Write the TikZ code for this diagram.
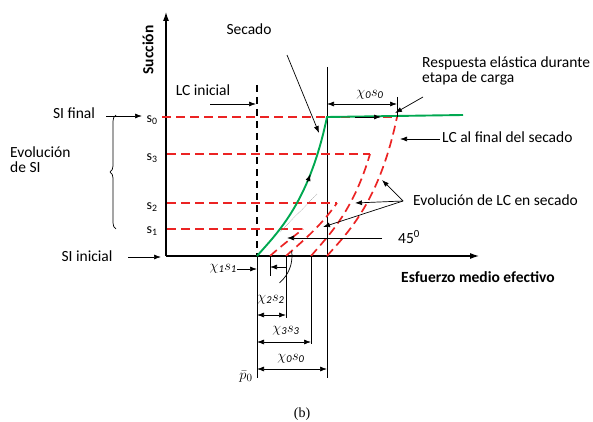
\documentclass[tikz,border=0pt]{standalone}
\usepackage{fontspec}
\setmainfont{Carlito}
\newfontfamily\serifb{Liberation Serif}
\usetikzlibrary{arrows.meta,decorations.pathreplacing}
\begin{document}
\begin{tikzpicture}[x=1pt,y=-1pt,
  lbl/.style={font=\fontsize{15.5}{15}\selectfont, inner sep=0pt},
  blbl/.style={font=\fontsize{15.5}{15}\selectfont\bfseries, inner sep=0pt},
  mlbl/.style={font=\fontsize{15}{15}\selectfont, inner sep=0pt},
  slbl/.style={font=\fontsize{14}{14}\selectfont, inner sep=0pt},
  thin/.style={line width=0.7pt},
  arr/.style={line width=0.7pt,-{Latex[length=7pt,width=5pt]}},
  dim/.style={line width=0.7pt,{Latex[length=7pt,width=5pt]}-{Latex[length=7pt,width=5pt]}},
  axis/.style={line width=1.1pt,-{Latex[length=9pt,width=6pt]}},
  rdash/.style={draw={rgb,255:red,235;green,35;blue,35}, line width=1.7pt, dash pattern=on 9pt off 5pt},
  bdash/.style={line width=1.4pt, dash pattern=on 7pt off 5pt},
  grn/.style={draw={rgb,255:red,0;green,168;blue,80}, line width=1.9pt}
]
\useasboundingbox (0,0) rectangle (593,422);

% coordinates
\coordinate (O) at (166,256);
\coordinate (p0) at (257,256);
\coordinate (p0b) at (257,378);
\coordinate (A) at (327,117);
\coordinate (Atop) at (327,67);
\coordinate (Abot) at (327,378);

% axes
\draw[axis] (O) -- (166,12) coordinate (ytip);
\draw[axis] (O) -- (479,256) coordinate (xtip);
\draw[line width=1.6pt] (p0) -- (403,256);

% vertical lines
\draw[bdash] (257,85) -- (p0);
\draw[thin] (Atop) -- (Abot);
\draw[thin] (p0) -- (p0b);

% red horizontal dashed
\draw[rdash] (162,117) -- (A);
\draw[rdash] (327,117) -- (397,117);
\draw[rdash] (167,154) -- (370,154);
\draw[rdash] (167,203) -- (337,203);
\draw[rdash] (167,229) -- (303,229);

% LC curves
\draw[rdash] (270,256) .. controls (279.5,247.3) and (291,238.7) .. (303,229);
\draw[rdash] (286,256) .. controls (300.2,242.9) and (319,228.5) .. (337,203);
\draw[rdash] (311,256) .. controls (328,236) and (353,212) .. (370,154);
\draw[rdash] (327,256) .. controls (347,233) and (379,203.4) .. (397,117);

% 45 deg line
\draw[gray, line width=0.5pt, densely dotted] (280,232) -- (317,194);

% green path
\draw[grn] (p0) .. controls (277,233) and (309,203.4) .. (A) -- (463,115);
\draw[arr] (307.5,182) -- (310.5,174);
\draw[arr] (355,117) -- (381,117);

% arc 45
\draw[thin] (p0) ++(50:35) arc[start angle=50, end angle=-8, radius=35];

% labels left
\node[blbl, rotate=90] (succ) at (148,50) {Succión};
\node[lbl] (secado) at (249,29) {Secado};
\node[lbl] (lcini) at (203,90) {LC inicial};
\draw[arr] (210,104) -- (256,104);
\node[lbl] (sifin) at (74,113) {SI final};
\draw[arr] (106,116) -- (142,116);
\node[lbl, align=left, anchor=west] (evsi) at (10,160) {Evolución\\de SI};
\node[lbl] (siini) at (87,256) {SI inicial};
\draw[arr] (128,257) -- (161,257);
\draw[thin, decorate, decoration={brace, amplitude=6pt}] (116,229) -- (116,115);

\node[slbl] (s0) at (152,120) {s\textsubscript{0}};
\node[slbl] (s3) at (152,158) {s\textsubscript{3}};
\node[slbl] (s2) at (152,207) {s\textsubscript{2}};
\node[slbl] (s1) at (152,231) {s\textsubscript{1}};

% Secado arrow
\draw[arr] (287,55) -- (319,133);

% top dimension
\draw[thin] (397,97) -- (397,117);
\draw[dim] (327,104) -- (397,104);
\node[mlbl] (c0top) at (370,95) {$\chi_{\mathit 0}s_{\mathit 0}$};

% Respuesta elastica
\node[lbl, align=left, anchor=west] (resp) at (422,71) {Respuesta elástica durante\\etapa de carga};
\draw[arr] (423,97) -- (395,113);

% LC al final
\node[lbl, anchor=west] (lcfin) at (442,137) {LC al final del secado};
\draw[arr] (440,139) -- (400,139);

% Evolucion de LC
\node[lbl, anchor=west] (evlc) at (413,200) {Evolución de LC en secado};
\coordinate (ev) at (403,201);
\draw[arr] (ev) -- (382,180);
\draw[arr] (ev) -- (355,203);
\draw[arr] (ev) -- (323,227);

% 45
\node[lbl, anchor=west] (d45) at (398,237) {45\textsuperscript{0}};
\draw[arr] (382,238) -- (287,238);

% x label
\node[blbl, anchor=west] (xlab) at (401,277) {Esfuerzo medio efectivo};

% bottom dimensions
\node[mlbl, anchor=east] (c1) at (237,269) {$\chi_{\mathit 1}s_{\mathit 1}$};
\draw[arr] (237,269) -- (257,269);
\draw[thin] (270,256) -- (270,276);
\draw[arr] (286,267) -- (270,267);
\draw[thin] (286,256) -- (286,318);
\draw[dim] (257,315) -- (286,315);
\node[mlbl] (c2) at (271,300) {$\chi_{\mathit 2}s_{\mathit 2}$};
\draw[thin] (311,256) -- (311,344);
\draw[dim] (257,342) -- (311,342);
\node[mlbl] (c3) at (286,331) {$\chi_{\mathit 3}s_{\mathit 3}$};
\draw[dim] (257,369) -- (327,369);
\node[mlbl] (c0) at (291,359) {$\chi_{\mathit 0}s_{\mathit 0}$};
\node[mlbl] (pb) at (246,377) {$\bar{p}_0$};

\node[font=\serifb\fontsize{14}{14}\selectfont, inner sep=0pt] (b) at (302,414) {(b)};
\end{tikzpicture}
\end{document}
